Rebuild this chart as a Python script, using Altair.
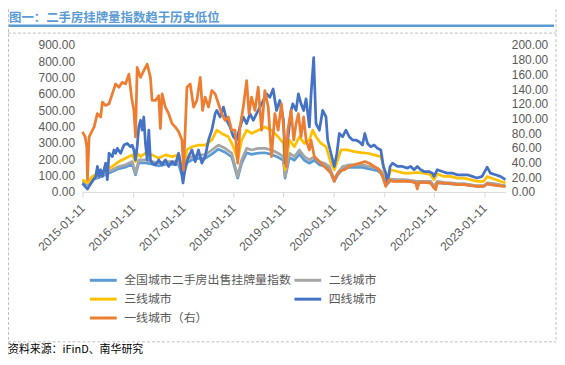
import altair as alt
import pandas as pd

BASE = pd.Timestamp("2015-01-11")

series_names = ["全国城市二手房出售挂牌量指数", "二线城市", "三线城市", "四线城市", "一线城市（右）"]
series_colors = ["#5B9BD5", "#A5A5A5", "#FFC000", "#4472C4", "#ED7D31"]

# week offsets from 2015-01-11
weeks_gray = [0, 5.2, 10.3, 17.2, 24.1, 31, 37.9, 44.8, 51.7, 55.1,
              58.5, 65.4, 72.3, 79.2, 86.1, 93, 99.9, 104.4, 108.5, 113.7,
              120.5, 127.4, 134.3, 141.2, 148.1, 155, 161.2, 165.3, 170.5, 175.6,
              182.5, 189.4, 196.3, 203.2, 208.7, 210.4, 214.9, 220.1, 225.3, 230.4,
              235.6, 240.8, 246, 251.1, 256.3, 261.5, 265, 270.1, 277, 283.9,
              290.8, 297.7, 306.3, 312.5, 316.7, 320.1, 327, 334, 340.8, 347.7,
              354.6, 361.5, 365, 368.4, 375.3, 382.2, 389.1, 396, 402.9, 409.8,
              416.7, 420.2, 427.1, 434, 439.2]
vals_gray = [65, 51, 85, 95, 115, 136, 156, 166, 186, 115,
             196, 196, 186, 176, 186, 186, 186, 95, 196, 216,
             227, 227, 257, 287, 267, 237, 95, 196, 267, 257,
             267, 267, 257, 237, 216, 95, 237, 216, 257, 216,
             196, 216, 186, 176, 156, 75, 115, 156, 166, 166,
             166, 156, 146, 115, 55, 79, 75, 75, 71, 65,
             65, 65, 34, 65, 59, 55, 51, 51, 45, 38,
             38, 55, 51, 43, 38]
vals_national = [58, 45, 78, 88, 106, 125, 143, 152, 170, 105,
                 180, 178, 170, 160, 168, 168, 168, 85, 178, 196,
                 205, 205, 232, 262, 243, 214, 85, 176, 240, 230,
                 238, 240, 230, 212, 194, 85, 212, 194, 232, 194,
                 176, 194, 167, 158, 140, 66, 104, 140, 150, 150,
                 150, 141, 131, 104, 49, 71, 67, 67, 64, 58,
                 58, 58, 31, 58, 53, 49, 46, 46, 40, 35,
                 35, 49, 46, 38, 35]

weeks_yellow = [0, 5.2, 10.3, 17.2, 24.1, 31, 37.9, 44.8, 51.7, 55.1,
                56.8, 60.3, 65.4, 72.3, 79.2, 86.1, 93, 99.9, 104.4, 108.5,
                113.7, 120.5, 127.4, 134.3, 139.5, 144.6, 151.5, 156.7, 161.2, 165.3,
                170.5, 175.6, 182.5, 189.4, 196.3, 203.2, 208.7, 210.4, 214.9, 220.1,
                225.3, 230.4, 235.6, 239.1, 242.5, 247.7, 252.9, 258, 261.5, 265,
                268.4, 275.3, 282.2, 289.1, 296, 302.9, 309.8, 312.5, 316.7, 320.1,
                327, 334, 340.8, 347.7, 354.6, 361.5, 365, 368.4, 375.3, 382.2,
                389.1, 396, 402.9, 409.8, 416.7, 420.2, 427.1, 434, 439.2]
vals_yellow = [75, 55, 95, 115, 136, 156, 186, 206, 227, 186,
               237, 216, 237, 227, 206, 227, 216, 227, 115, 257,
               277, 287, 287, 318, 378, 358, 338, 277, 196, 318,
               378, 358, 378, 398, 378, 338, 297, 136, 318, 277,
               338, 297, 318, 378, 338, 297, 277, 176, 136, 196,
               257, 257, 247, 241, 237, 227, 216, 156, 65, 136,
               125, 115, 115, 119, 115, 105, 75, 111, 95, 95,
               85, 85, 75, 65, 65, 95, 79, 65, 55]

weeks_blue = [0, 2.8, 5.2, 6.9, 10.3, 13.8, 15.5, 17.2, 18.9, 20.7,
              24.1, 25.8, 27.6, 31, 32.7, 34.4, 36.2, 39.6, 43.1, 46.5,
              49.9, 51.7, 53.4, 55.1, 56.8, 58.5, 60.3, 62, 63.7, 65.4,
              67.2, 68.9, 70.6, 72.3, 75.8, 79.2, 82.7, 86.1, 89.5, 93,
              96.4, 99.9, 102.6, 104.4, 106.8, 110.2, 113.7, 117.1, 120.5, 124,
              127.4, 130.9, 134.3, 137.8, 139.5, 142.9, 146.4, 149.8, 153.3, 156.7,
              160.1, 163.6, 167, 170.5, 173.9, 177.4, 180.8, 184.3, 187.7, 191.1,
              194.6, 198, 201.5, 204.9, 206.3, 208.7, 210.4, 213.2, 216.6, 218.4, 221.8,
              224.2, 227, 229.7, 232.2, 235.6, 237.3, 240.1, 242.5, 246, 249.4,
              252.9, 254.6, 258, 261.5, 264.2, 266.7, 270.1, 273.6, 277, 280.5,
              283.9, 287.4, 290.8, 293.2, 296, 299.4, 302.9, 306.3, 309.8, 312.5,
              315, 316.7, 319.4, 321.9, 327, 332.2, 337.4, 340.8, 344.3, 347.7,
              351.2, 354.6, 359.8, 363.3, 365, 368.4, 373.6, 378.8, 384, 389.1,
              394.3, 399.5, 404.7, 409.8, 415, 420.2, 423.6, 428.8, 434, 439.2]
vals_blue = [51, 34, 18, 34, 65, 95, 156, 95, 136, 95,
             176, 75, 237, 216, 257, 237, 267, 237, 287, 297,
             277, 287, 257, 196, 277, 398, 439, 378, 459, 297,
             196, 378, 196, 176, 166, 196, 166, 196, 156, 186,
             166, 237, 136, 55, 156, 216, 257, 186, 257, 176,
             216, 318, 378, 479, 499, 459, 520, 439, 398, 338,
             318, 398, 459, 419, 479, 439, 479, 520, 560, 601,
             580, 631, 499, 560, 520, 439, 176, 318, 499, 540, 499,
             601, 540, 499, 570, 398, 590, 823, 419, 378, 499,
             459, 318, 237, 156, 237, 358, 338, 378, 338, 318,
             318, 307, 287, 358, 297, 277, 287, 267, 257, 156,
             115, 55, 156, 176, 156, 156, 146, 156, 136, 156,
             136, 125, 125, 115, 95, 136, 125, 115, 115, 105,
             105, 105, 95, 85, 95, 152, 115, 105, 95, 75]

weeks_orange = [0, 2.8, 4.5, 5.2, 6.9, 8.6, 12.1, 15.5, 18.9, 20.7,
                24.1, 27.6, 31, 34.4, 37.9, 41.3, 44.8, 48.2, 51, 53.4,
                55.1, 56.8, 60.3, 63.7, 67.2, 70.6, 72.3, 75.8, 79.2, 80.9,
                82.7, 86.1, 89.5, 93, 96.4, 99.9, 103.3, 105, 108.5, 111.9,
                115.4, 118.8, 122.3, 124.7, 127.4, 130.9, 134.3, 137.8, 141.2, 144.6,
                148.1, 151.5, 155, 158.4, 161.2, 163.6, 167, 170.5, 172.9, 175.6,
                179.1, 182.5, 186, 189.4, 192.9, 196.3, 199.8, 203.2, 206.6, 209.7,
                211.5, 213.2, 216.6, 219.4, 221.8, 224.2, 227, 229.7, 232.2, 235.6,
                237.3, 240.8, 244.2, 247.7, 251.1, 254.6, 258, 261.5, 263.2, 266.7,
                271.8, 277, 282.2, 287.4, 293.2, 297.7, 302.9, 308, 311.5, 314.9,
                318.4, 321.9, 327, 334, 340.8, 346, 347.7, 349.5, 354.6, 361.5,
                365, 366.7, 368.4, 375.3, 382.2, 389.1, 396, 402.9, 409.8, 416.7,
                420.2, 423.6, 430.5, 437.4, 439.2]
vals_orange = [81.8, 75.1, 61.6, 16.6, 75.1, 79.5, 88.5, 106.5, 102, 122.2,
               117.7, 120, 133.5, 147, 142.5, 149.2, 147, 160.4, 129, 111,
               75, 169.4, 156, 165, 174, 156, 124.5, 124.5, 131, 86.3,
               133.5, 115.5, 106.5, 93, 88.5, 81.8, 70.6, 30.1, 142.5, 147,
               115.5, 124.5, 156, 111, 129, 115.5, 138, 133.5, 120, 106.5,
               97.5, 102, 84, 84, 39.1, 88.5, 115.5, 151.5, 106.5, 129,
               111, 142.5, 84, 138, 115.5, 48, 106.5, 84, 120, 75.5,
               34.6, 84, 111, 70.6, 93, 106.5, 75, 102, 70.6, 57,
               70.6, 48, 43.6, 39.1, 34.6, 30.1, 25.6, 14.4, 21.1, 27.9,
               30.1, 34.6, 36.9, 39.1, 41.3, 39.1, 34.6, 30.1, 21.1, 7.6,
               16.6, 14.4, 14.4, 14.4, 14.4, 12.1, 4, 13, 13, 12.1,
               5.4, 3.1, 12.1, 12.1, 11.2, 9.9, 9.9, 8.5, 7.6, 7.6,
               11.2, 9.9, 8.5, 7.6, 7.6]

x_tick_years = list(range(2015, 2024))
left_ticks = list(range(0, 1000, 100))
right_ticks = list(range(0, 220, 20))


def frame(name, weeks, vals):
    return pd.DataFrame({
        "date": [BASE + pd.Timedelta(days=7 * w) for w in weeks],
        "value": vals,
        "series": name,
    })


AXIS_FONT = "Liberation Sans"
CJK = "Noto Sans CJK SC"
GRAY_TXT = "#595959"

x_enc = alt.X(
    "date:T",
    scale=alt.Scale(domain=[alt.DateTime(year=2015, month=1, date=11),
                            alt.DateTime(year=2023, month=6, date=12)], nice=False),
    axis=alt.Axis(
        values=[alt.DateTime(year=y, month=1, date=11) for y in x_tick_years],
        format="%Y-%m-%d", labelAngle=315, labelAlign="right", labelBaseline="middle",
        labelPadding=9, tickSize=5, tickColor="#D9D9D9", domainColor="#D9D9D9",
        labelFont=AXIS_FONT, labelFontSize=12, labelColor=GRAY_TXT, grid=False,
        title=None, labelOverlap=False,
    ),
)

y_left = alt.Y(
    "value:Q",
    scale=alt.Scale(domain=[0, 900], nice=False),
    axis=alt.Axis(values=left_ticks, format=".2f", grid=False, domain=False, ticks=False,
                  labelPadding=8, labelFont=AXIS_FONT, labelFontSize=12,
                  labelColor=GRAY_TXT, title=None, orient="left"),
)
y_right = alt.Y(
    "value:Q",
    scale=alt.Scale(domain=[0, 200], nice=False),
    axis=alt.Axis(values=right_ticks, format=".2f", grid=False, domain=False, ticks=False,
                  labelPadding=6, labelFont=AXIS_FONT, labelFontSize=12,
                  labelColor=GRAY_TXT, title=None, orient="right"),
)

legend = alt.Legend(
    orient="none", legendX=15, legendY=231, columns=2, direction="horizontal",
    symbolType="M-3,0H3", symbolStrokeWidth=3, symbolSize=81,
    labelFont=CJK, labelFontSize=12, labelColor=GRAY_TXT,
    columnPadding=-4, rowPadding=7, labelOffset=15,
    title=None, labelLimit=400,
)
color = alt.Color("series:N", scale=alt.Scale(domain=series_names, range=series_colors),
                  legend=legend)


def line(df, y):
    return alt.Chart(df).mark_line(strokeWidth=2.75, strokeJoin="round").encode(
        x=x_enc, y=y, color=color)


left = alt.layer(
    line(frame(series_names[0], weeks_gray, vals_national), y_left),
    line(frame(series_names[1], weeks_gray, vals_gray), y_left),
    line(frame(series_names[2], weeks_yellow, vals_yellow), y_left),
    line(frame(series_names[3], weeks_blue, vals_blue), y_left),
)
right = line(frame(series_names[4], weeks_orange, vals_orange), y_right)

one = pd.DataFrame({"k": [0]})


def hrule(y, x1, x2, col, w, dash=None):
    kw = dict(color=col, strokeWidth=w)
    if dash:
        kw["strokeDash"] = dash
    return alt.Chart(one).mark_rule(**kw).encode(
        x=alt.value(x1), x2=alt.value(x2), y=alt.value(y))


def vrule(x, y1, y2, col, w, dash=None):
    kw = dict(color=col, strokeWidth=w)
    if dash:
        kw["strokeDash"] = dash
    return alt.Chart(one).mark_rule(**kw).encode(
        x=alt.value(x), y=alt.value(y1), y2=alt.value(y2))


def label(txt, x, y, size, col, weight="normal"):
    return alt.Chart(one).mark_text(
        text=txt, align="left", baseline="middle", font=CJK, fontSize=size,
        fontWeight=weight, color=col).encode(x=alt.value(x), y=alt.value(y))


decor = [
    label("图一：二手房挂牌量指数趋于历史低位", -74, -27, 12.5, "#5B9BD5", "bold"),
    hrule(-19.5, -75, 475, "#5B9BD5", 2.5),
    hrule(-12, -75, 477, "#BFBFBF", 1, [3, 2]),
    vrule(-74.5, -36, 313, "#BFBFBF", 1, [3, 2]),
    vrule(477, -36, 299, "#BFBFBF", 1, [3, 2]),
    hrule(299, -75, 477, "#BFBFBF", 1, [3, 2]),
    label("资料来源：iFinD、南华研究", -75, 307, 11, "#000000"),
]

chart = alt.layer(left, right, *decor).resolve_scale(y="independent").properties(
    width=426, height=148,
    autosize=alt.AutoSizeParams(type="none"),
    padding={"left": 75, "top": 36, "right": 52, "bottom": 165},
    background="white",
).configure_view(stroke=None)

chart.save("out.html", embed_options={"renderer": "svg", "actions": False})
